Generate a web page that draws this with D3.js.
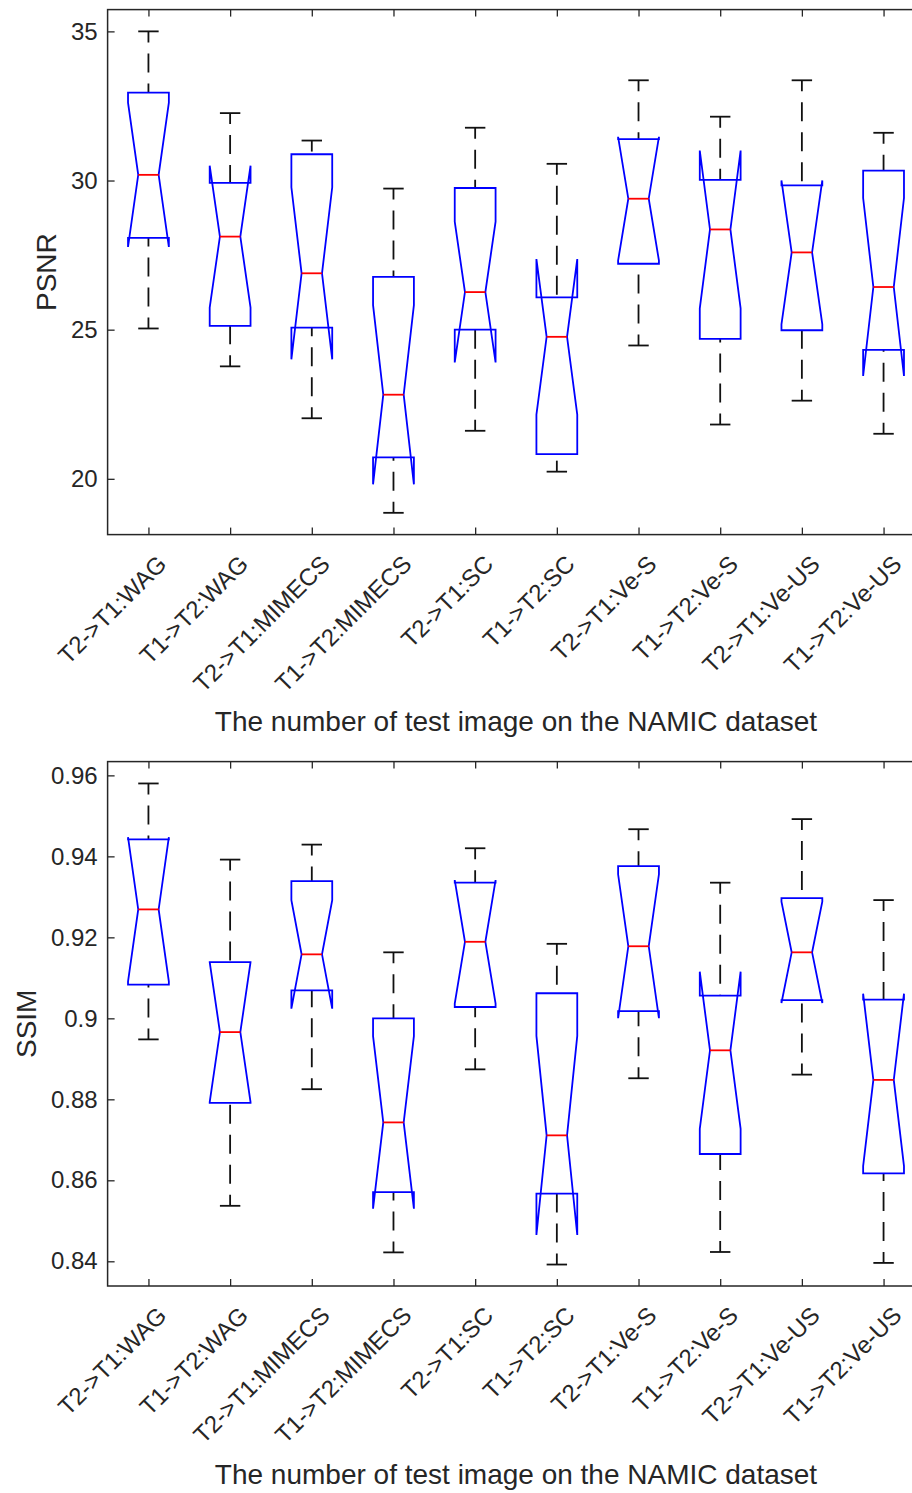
<!DOCTYPE html>
<html>
<head>
<meta charset="utf-8">
<script src="https://cdn.jsdelivr.net/npm/d3@7"></script>
<style>
  html, body { margin: 0; padding: 0; background: #fff; overflow: hidden; }
  svg { display: block; }
  text { font-family: "Liberation Sans", Arial, Helvetica, sans-serif; fill: #262626; }
</style>
</head>
<body>
<svg id="fig" width="912" height="1493"></svg>
<script>
// Method / direction labels along the x axis
const methods = [
  "T2->T1:WAG", "T1->T2:WAG", "T2->T1:MIMECS", "T1->T2:MIMECS",
  "T2->T1:SC", "T1->T2:SC", "T2->T1:Ve-S", "T1->T2:Ve-S",
  "T2->T1:Ve-US", "T1->T2:Ve-US"
];

// Number of test images per method (sets the notch size)
const nImages = 10;

// PSNR summary statistics (whisker ends, quartiles, median)
const psnrMax = [35.00, 32.26, 31.34, 29.73, 31.77, 30.56, 33.36, 32.14, 33.36, 31.60];
const psnrQ3  = [32.95, 29.92, 30.88, 26.77, 29.75, 26.08, 31.39, 30.02, 29.84, 30.33];
const psnrMed = [30.19, 28.12, 26.89, 22.82, 26.26, 24.76, 29.39, 28.36, 27.59, 26.43];
const psnrQ1  = [28.08, 25.13, 25.07, 20.72, 25.00, 20.83, 27.21, 24.69, 24.98, 24.32];
const psnrMin = [25.04, 23.77, 22.03, 18.86, 21.61, 20.24, 24.47, 21.82, 22.62, 21.51];
const psnrTicks = [20, 25, 30, 35];

// SSIM summary statistics
const ssimMax = [0.9580, 0.9392, 0.9429, 0.9163, 0.9420, 0.9184, 0.9467, 0.9335, 0.9492, 0.9292];
const ssimQ3  = [0.9442, 0.9139, 0.9339, 0.9000, 0.9335, 0.9062, 0.9376, 0.9056, 0.9297, 0.9046];
const ssimMed = [0.9269, 0.8966, 0.9158, 0.8743, 0.9189, 0.8711, 0.9178, 0.8921, 0.9163, 0.8848];
const ssimQ1  = [0.9083, 0.8791, 0.9069, 0.8571, 0.9028, 0.8567, 0.9018, 0.8665, 0.9045, 0.8617];
const ssimMin = [0.8948, 0.8537, 0.8825, 0.8422, 0.8874, 0.8392, 0.8852, 0.8423, 0.8861, 0.8396];
const ssimTicks = [0.84, 0.86, 0.88, 0.90, 0.92, 0.94, 0.96];

const xLabelText = "The number of test image on the NAMIC dataset";

const svg = d3.select("#fig");
const axisColor = "#262626";

function drawPanel(cfg) {
  const { top, bottom, left, right, yDomain, yTicks, yFmt, yLabel, yLabelX, xLabelY,
          maxV, q3, med, q1, minV } = cfg;

  const x = d3.scaleLinear().domain([0.5, methods.length + 0.5]).range([left, right]);
  const y = d3.scaleLinear().domain(yDomain).range([bottom, top]);
  const g = svg.append("g");

  const boxHalf = x(1.25) - x(1);     // box is 0.5 wide in category units
  const stats = methods.map((m, i) => {
    const iqr = q3[i] - q1[i];
    const notch = 1.57 * iqr / Math.sqrt(nImages);
    return { i: i + 1, max: maxV[i], q3: q3[i], med: med[i], q1: q1[i], min: minV[i],
             nLo: med[i] - notch, nHi: med[i] + notch };
  });

  // whiskers (dashed) drawn from the adjacent value towards the box
  const wh = g.append("g")
    .attr("stroke", "#111").attr("stroke-width", 1.8)
    .attr("stroke-dasharray", "19,11").attr("stroke-dashoffset", 8).attr("fill", "none");
  stats.forEach(d => {
    wh.append("line").attr("x1", x(d.i)).attr("x2", x(d.i)).attr("y1", y(d.max)).attr("y2", y(d.q3));
    wh.append("line").attr("x1", x(d.i)).attr("x2", x(d.i)).attr("y1", y(d.min)).attr("y2", y(d.q1));
  });

  // whisker caps
  const caps = g.append("g").attr("stroke", "#111").attr("stroke-width", 1.8);
  stats.forEach(d => {
    [d.max, d.min].forEach(v => {
      caps.append("line")
        .attr("x1", x(d.i) - boxHalf / 2).attr("x2", x(d.i) + boxHalf / 2)
        .attr("y1", y(v)).attr("y2", y(v));
    });
  });

  // notched boxes
  g.append("g").selectAll("path").data(stats).join("path")
    .attr("fill", "none").attr("stroke", "#0000ff").attr("stroke-width", 1.8)
    .attr("stroke-linejoin", "miter")
    .attr("d", d => {
      const l = x(d.i) - boxHalf, r = x(d.i) + boxHalf;
      const li = x(d.i) - boxHalf / 2, ri = x(d.i) + boxHalf / 2;
      return d3.line()([
        [l, y(d.q1)], [l, y(d.nLo)], [li, y(d.med)], [l, y(d.nHi)], [l, y(d.q3)],
        [r, y(d.q3)], [r, y(d.nHi)], [ri, y(d.med)], [r, y(d.nLo)], [r, y(d.q1)]
      ]) + "Z";
    });

  // medians
  g.append("g").selectAll("line").data(stats).join("line")
    .attr("stroke", "#ff0000").attr("stroke-width", 1.8)
    .attr("x1", d => x(d.i) - boxHalf / 2).attr("x2", d => x(d.i) + boxHalf / 2)
    .attr("y1", d => y(d.med)).attr("y2", d => y(d.med));

  // axes with inward ticks
  const yAx = g.append("g").attr("transform", `translate(${left},0)`)
    .call(d3.axisLeft(y).tickValues(yTicks).tickFormat(yFmt)
      .tickSizeInner(-7).tickSizeOuter(0).tickPadding(10));
  yAx.select(".domain").remove();
  yAx.selectAll("line").attr("stroke", axisColor).attr("stroke-width", 1.3);
  yAx.selectAll("text").attr("font-size", 24).attr("fill", axisColor)
    .attr("font-family", "'Liberation Sans', Arial, sans-serif");

  const xAx = g.append("g").attr("transform", `translate(0,${bottom})`)
    .call(d3.axisBottom(x).tickValues(d3.range(1, methods.length + 1))
      .tickFormat(i => methods[i - 1]).tickSizeInner(-7).tickSizeOuter(0));
  xAx.select(".domain").remove();
  xAx.selectAll("line").attr("stroke", axisColor).attr("stroke-width", 1.3);
  xAx.selectAll("text")
    .attr("font-size", 24).attr("fill", axisColor)
    .attr("font-family", "'Liberation Sans', Arial, sans-serif")
    .attr("text-anchor", "end").attr("x", 0).attr("y", 0).attr("dy", null)
    .attr("transform", "translate(19,31) rotate(-45)");

  const xTop = g.append("g").attr("transform", `translate(0,${top})`)
    .call(d3.axisTop(x).tickValues(d3.range(1, methods.length + 1))
      .tickFormat("").tickSizeInner(-7).tickSizeOuter(0));
  xTop.select(".domain").remove();
  xTop.selectAll("line").attr("stroke", axisColor).attr("stroke-width", 1.3);

  // axes frame
  g.append("rect")
    .attr("x", left).attr("y", top).attr("width", right - left).attr("height", bottom - top)
    .attr("fill", "none").attr("stroke", axisColor).attr("stroke-width", 1.5);

  // axis titles
  g.append("text")
    .attr("transform", `translate(${yLabelX},${(top + bottom) / 2}) rotate(-90)`)
    .attr("text-anchor", "middle").attr("font-size", 28).text(yLabel);

  g.append("text")
    .attr("x", (left + right) / 2).attr("y", xLabelY)
    .attr("text-anchor", "middle").attr("font-size", 28).text(xLabelText);
}

drawPanel({
  top: 9.6, bottom: 534.6, left: 107.6, right: 924.4,
  yDomain: [18.13, 35.73], yTicks: psnrTicks, yFmt: d3.format("d"),
  yLabel: "PSNR", yLabelX: 56, xLabelY: 731,
  maxV: psnrMax, q3: psnrQ3, med: psnrMed, q1: psnrQ1, minV: psnrMin
});

drawPanel({
  top: 761.6, bottom: 1286, left: 107.6, right: 924.4,
  yDomain: [0.8339, 0.9634], yTicks: ssimTicks, yFmt: d => d3.format(".2f")(d).replace(/0$/, ""),
  yLabel: "SSIM", yLabelX: 35.5, xLabelY: 1484,
  maxV: ssimMax, q3: ssimQ3, med: ssimMed, q1: ssimQ1, minV: ssimMin
});
</script>
</body>
</html>
